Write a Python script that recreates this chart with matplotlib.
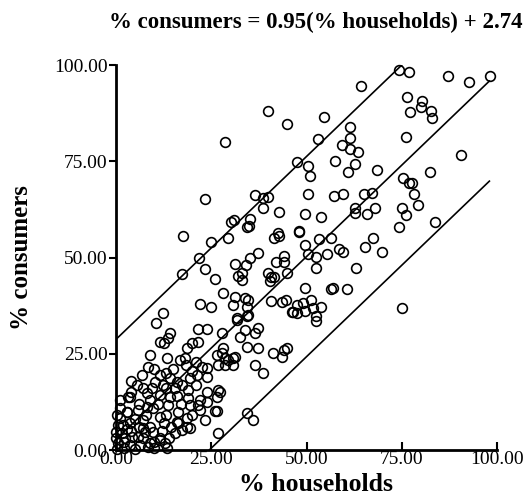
import numpy as np
import matplotlib
matplotlib.use("Agg")
import matplotlib.pyplot as plt

plt.rcParams['font.family'] = ['Liberation Serif', 'DejaVu Serif']

# % households / % consumers
households = [
    28.5, 64.4, 39.8, 44.8, 54.7, 53.1, 47.4, 61.3, 61.3, 59.4, 61.5, 63.6, 57.6, 62.6, 61.0, 50.5, 51.0,
    74.3, 77.0, 87.2, 92.7, 98.2, 76.4, 80.4, 80.1, 77.2, 82.7, 83.0, 76.2, 90.6, 68.6, 82.5, 75.4, 77.0, 77.7,
    23.3, 30.1, 30.9, 17.5, 24.9, 29.3, 21.7, 17.3, 23.3, 25.9, 31.2, 31.9, 28.0, 31.2, 22.0, 24.9, 30.6, 12.3, 10.5, 31.7,
    36.4, 38.5, 40.0, 38.7, 50.5, 57.3, 59.7, 65.2, 62.6, 62.8, 66.0, 42.7, 49.5, 53.7, 35.3, 34.3, 34.8, 42.4, 41.6, 42.9,
    47.9, 48.1, 53.4, 56.5, 49.5, 50.5, 52.4, 55.5, 58.4, 59.7, 65.4, 52.4, 63.1, 37.2, 35.1, 34.0, 44.0, 42.1, 44.2, 45.0,
    39.8, 40.8, 41.6, 40.3, 33.0, 33.2, 49.5, 56.3, 56.9, 60.5, 33.8, 34.7, 40.8, 43.5, 44.5, 47.4, 49.2, 51.3, 51.6, 53.7,
    47.4, 46.5, 49.5, 52.6, 52.6, 34.3, 34.3,
    67.3, 78.3, 68.1, 75.1, 79.3, 76.2, 74.3, 83.8, 67.5, 69.9, 75.1,
    44.8, 44.2, 41.1, 43.5, 36.4, 38.5, 37.2, 27.7, 32.5, 33.8, 36.4, 37.2, 34.3, 34.6, 31.7, 46.1,
    21.5, 23.8, 14.1, 13.6, 11.5, 12.6, 21.5, 19.9, 18.6, 27.8, 28.0, 26.4, 28.5, 30.6, 26.7, 28.5, 30.6, 31.2, 29.3,
    8.9, 13.4, 16.8, 18.3, 20.9, 22.5, 23.8, 23.8, 21.2, 19.4, 8.4, 6.8, 11.5, 14.1, 16.0, 17.3, 15.4, 12.3, 10.2, 9.4,
    5.5, 3.7, 8.1, 11.5, 14.1, 18.8, 19.4, 22.0, 23.8, 26.7, 22.0, 26.4, 0.3, 1.0, 2.9, 5.8, 8.1, 9.7, 13.6, 16.2,
    11.5, 7.1, 3.7, 16.0, 18.6, 19.4, 23.3, 15.4, 17.3, 26.7, 0.0, 1.7, 2.4, 4.2, 5.8, 7.6, 9.7, 11.5, 12.8, 8.9,
    6.3, 3.7, 0.5, 0.0, 1.8, 0.5, 3.1, 13.4, 8.4, 11.5, 16.2, 18.6, 27.2, 25.9, 34.3, 35.9, 21.5, 23.8, 26.4,
    2.0, 4.0, 6.0, 1.0, 3.0, 5.0, 7.0, 9.0, 10.0, 12.0, 14.0, 2.0, 5.0, 0.3, 10.0, 13.0, 6.0, 4.0, 1.0, 8.0,
    11.0, 3.0, 7.0, 12.5, 14.5, 20.0, 18.0, 15.0, 13.0, 10.0, 21.0, 19.0, 16.0, 13.0, 17.0, 20.0, 9.0, 7.0, 4.0,
]
consumers = [
    80.0, 94.5, 88.0, 84.7, 86.5, 80.8, 74.8, 83.9, 81.0, 79.2, 78.2, 77.4, 75.1, 74.3, 72.2, 73.8, 71.2,
    98.7, 98.2, 97.1, 95.6, 97.1, 91.7, 90.6, 89.1, 87.8, 88.1, 86.2, 81.3, 76.6, 72.7, 72.2, 70.6, 69.4, 69.4,
    65.2, 59.2, 59.7, 55.6, 54.0, 55.1, 49.9, 45.7, 47.0, 44.4, 48.3, 45.2, 40.8, 39.7, 37.9, 37.1, 37.7, 35.6, 33.0, 34.3,
    66.2, 65.5, 65.7, 62.9, 66.5, 66.0, 66.5, 66.5, 62.9, 61.6, 61.3, 61.8, 61.3, 60.5, 60.0, 57.9, 58.3, 56.4, 55.1, 55.6,
    56.6, 57.0, 54.8, 55.1, 53.2, 50.9, 50.1, 50.9, 52.2, 51.4, 52.7, 47.3, 47.3, 51.2, 49.9, 48.1, 50.4, 48.8, 48.8, 46.0,
    46.0, 44.9, 44.9, 43.9, 46.0, 44.2, 42.1, 41.8, 42.0, 41.8, 39.5, 38.9, 38.7, 38.4, 39.0, 37.7, 38.2, 39.0, 36.9, 37.1,
    35.6, 35.8, 36.1, 34.8, 33.5, 37.1, 34.8,
    66.8, 66.5, 62.9, 62.9, 63.6, 61.0, 57.9, 59.2, 55.1, 51.4, 36.9,
    26.5, 26.0, 25.2, 24.2, 22.1, 20.0, 26.5, 25.2, 29.4, 31.2, 30.4, 31.7, 26.8, 35.1, 33.8, 35.8,
    31.4, 31.4, 30.4, 29.1, 28.1, 27.8, 28.1, 27.8, 26.5, 30.5, 26.5, 24.7, 23.9, 23.9, 22.1, 22.1, 22.1, 24.2, 23.4,
    24.7, 23.9, 23.4, 22.1, 22.9, 21.6, 21.3, 19.0, 19.5, 18.7, 21.6, 19.5, 19.5, 18.7, 17.7, 16.9, 16.1, 16.9, 17.7, 16.1,
    16.9, 13.8, 14.8, 14.3, 13.8, 13.5, 11.7, 13.0, 15.1, 15.6, 10.4, 10.1, 9.1, 8.3, 9.9, 10.4, 11.2, 10.9, 11.7, 9.9,
    8.6, 7.8, 7.0, 7.3, 8.3, 5.7, 7.8, 4.4, 5.2, 4.4, 4.7, 4.4, 3.1, 3.4, 3.4, 4.7, 4.7, 3.1, 1.8, 1.8,
    1.3, 1.3, 1.8, 3.1, 6.5, 6.5, 13.8, 0.5, 0.8, 2.6, 7.0, 6.0, 15.1, 10.1, 9.6, 7.8, 11.7, 12.5, 13.8,
    2.0, 5.0, 6.0, 11.0, 10.0, 8.0, 3.0, 6.0, 2.0, 5.0, 3.0, 0.5, 0.2, 0.3, 0.5, 9.0, 12.0, 15.0, 13.0, 9.0,
    12.0, 5.5, 5.8, 7.0, 6.0, 20.5, 24.0, 21.0, 20.0, 21.0, 17.0, 15.5, 14.0, 16.0, 12.0, 9.0, 13.0, 16.0, 18.0,
]

slope = 0.95
intercept = 2.74
band = 26.0  # half-width of the outer lines

fig = plt.figure(figsize=(5.27, 5.04), dpi=100)
ax = fig.add_axes([0.2201, 0.1071, 0.7230, 0.7639])

ax.plot(households, consumers, 'o', ms=7, mfc='none', mec='black', mew=1.2, clip_on=False)

# fit line and the two outer lines
xs = np.array([0, 98.0])
ax.plot(xs, slope * xs + intercept, color='black', lw=1.2)
xu = np.array([0, (100 - intercept - band) / slope])
ax.plot(xu, slope * xu + intercept + band, color='black', lw=1.2)
xl = np.array([(band - intercept) / slope, 98.0])
ax.plot(xl, slope * xl + intercept - band, color='black', lw=1.2)

ax.set_xlim(0, 100)
ax.set_ylim(0, 100)
ticks = [0, 25, 50, 75, 100]
ax.set_xticks(ticks)
ax.set_yticks(ticks)
ax.set_xticklabels(['%.2f' % t for t in ticks])
ax.set_yticklabels(['%.2f' % t for t in ticks])
ax.tick_params(axis='x', direction='in', length=6, width=1.5, pad=1, labelsize=14)
ax.tick_params(axis='y', direction='out', length=5, width=1.5, pad=1, labelsize=14)

for s in ['top', 'right']:
    ax.spines[s].set_visible(False)
ax.spines['left'].set_linewidth(2)
ax.spines['bottom'].set_linewidth(2)

fig.text(0.60, 0.956, '% consumers = 0.95(% households) + 2.74', ha='center', va='center',
         fontsize=16.5, fontweight='bold')
fig.text(0.60, 0.038, '% households', ha='center', va='center', fontsize=18.5, fontweight='bold')
fig.text(0.040, 0.488, '% consumers', ha='center', va='center', rotation=90,
         fontsize=18, fontweight='bold')

plt.savefig('out.png', dpi=100)
